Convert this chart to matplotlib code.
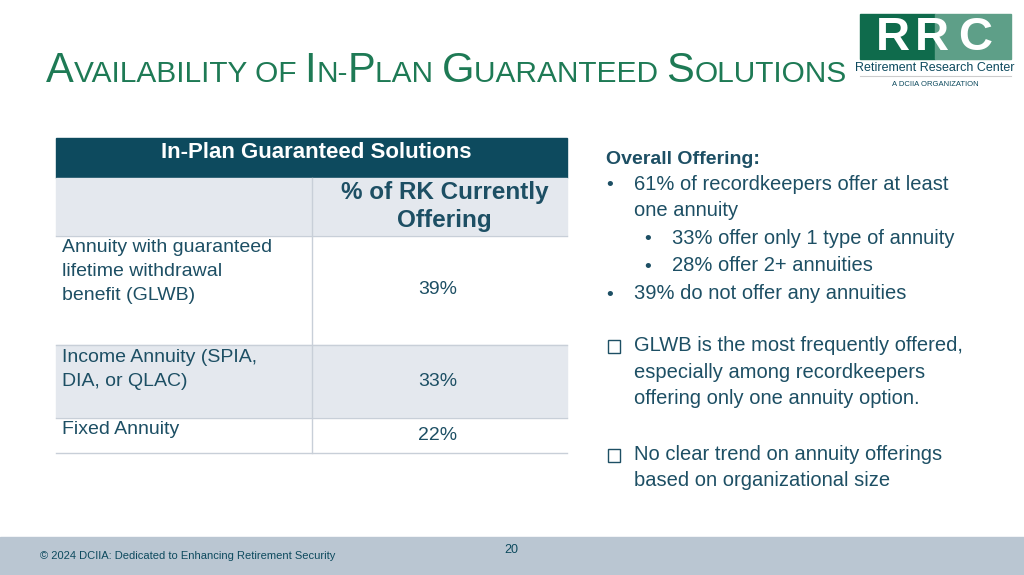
import matplotlib
matplotlib.use("Agg")
import matplotlib.pyplot as plt
from matplotlib.patches import Rectangle
from matplotlib.offsetbox import TextArea, HPacker, AnchoredOffsetbox

plt.rcParams['font.family'] = ['Liberation Sans', 'DejaVu Sans']

# table data
header = "In-Plan Guaranteed Solutions"
col_header = ["% of RK Currently", "Offering"]
solutions = [["Annuity with guaranteed", "lifetime withdrawal", "benefit (GLWB)"],
             ["Income Annuity (SPIA,", "DIA, or QLAC)"],
             ["Fixed Annuity"]]
pct_offering = ["39%", "33%", "22%"]
pct_y = [290, 381, 435]

# side notes
bullets = [(606, "61% of recordkeepers offer at least\none annuity", 186),
           (644, "33% offer only 1 type of annuity", 240),
           (644, "28% offer 2+ annuities", 267),
           (606, "39% do not offer any annuities", 295)]
boxed = [("GLWB is the most frequently offered,\nespecially among recordkeepers\noffering only one annuity option.", 347),
         ("No clear trend on annuity offerings\nbased on organizational size", 456)]

fig = plt.figure(figsize=(10.24, 5.75), dpi=100)
ax = fig.add_axes([0, 0, 1, 1])
ax.set_xlim(0, 1024)
ax.set_ylim(575, 0)
ax.axis('off')

navy = '#0d4a5e'
txt = '#1d4f64'
grey = '#e4e8ee'
green = '#1e7a55'

# title in small caps
parts = [("A", 30), ("VAILABILITY OF ", 21.5), ("I", 30), ("N-", 21.5), ("P", 30), ("LAN ", 21.5),
         ("G", 30), ("UARANTEED ", 21.5), ("S", 30), ("OLUTIONS", 21.5)]
areas = [TextArea(s, textprops=dict(fontsize=fs, color=green)) for s, fs in parts]
box = HPacker(children=areas, align="baseline", pad=0, sep=0)
ab = AnchoredOffsetbox(loc='lower left', child=box, frameon=False,
                       bbox_to_anchor=(46, 575 - 91), bbox_transform=None, borderpad=0, pad=0)
ax.add_artist(ab)

# logo
ax.add_patch(Rectangle((860, 14), 75, 45, color='#0f6b4c'))
ax.add_patch(Rectangle((935, 14), 76, 45, color='#5e9f88'))
for lx, ch in [(893, "R"), (932, "R"), (975, "C")]:
    ax.text(lx, 38, ch, color='white', fontsize=34, fontweight='bold', ha='center', va='center')
ax.text(935, 68, "Retirement Research Center", color=navy, fontsize=9, ha='center', va='center')
ax.plot([860, 1011], [76, 76], color='#cccccc', lw=0.8)
ax.text(935, 85, "A DCIIA ORGANIZATION", color=navy, fontsize=5.5, ha='center', va='center')

# table
x0, xm, x1 = 56, 312, 567
ax.add_patch(Rectangle((x0, 138), x1 - x0, 40, color=navy))
ax.text((x0 + x1) / 2 + 5, 153, header, color='white', fontsize=16, fontweight='bold', ha='center', va='center')
ax.add_patch(Rectangle((x0, 178), x1 - x0, 58, color=grey))
for i, line in enumerate(col_header):
    ax.text((xm + x1) / 2 + 5, 193 + 28 * i, line, color=txt, fontsize=17.5, fontweight='bold',
            ha='center', va='center')
rows = [(236, 345, 'white'), (345, 418, grey), (418, 453, 'white')]
for (ya, yb, c), sol, pct, py in zip(rows, solutions, pct_offering, pct_y):
    ax.add_patch(Rectangle((x0, ya), x1 - x0, yb - ya, color=c))
    ax.plot([x0, x1], [ya, ya], color='#c8cfd8', lw=1)
    for i, line in enumerate(sol):
        ax.text(62, ya + 12 + 24 * i, line, color=txt, fontsize=14, ha='left', va='center')
    ax.text(438, py, pct, color=txt, fontsize=14, ha='center', va='center')
ax.plot([x0, x1], [453, 453], color='#c8cfd8', lw=1)
ax.plot([xm, xm], [178, 453], color='#c8cfd8', lw=1)

# right side notes
ax.text(606, 159, "Overall Offering:", color=txt, fontsize=14, fontweight='bold', va='center')
for bx, s, y in bullets:
    ax.text(bx, y, "•", color=txt, fontsize=14, va='center')
    ax.text(bx + 28, y - 11, s, color=txt, fontsize=14.5, va='top', linespacing=1.5)
for s, y in boxed:
    ax.add_patch(Rectangle((608, y - 7), 12, 13, fill=False, ec=txt, lw=1))
    ax.text(634, y - 11, s, color=txt, fontsize=14.5, va='top', linespacing=1.5)

# footer
ax.add_patch(Rectangle((0, 537), 1024, 38, color='#bac6d2'))
ax.text(40, 556, "© 2024 DCIIA: Dedicated to Enhancing Retirement Security", color=navy, fontsize=8, va='center')
ax.text(511, 550, "20", color=navy, fontsize=9, ha='center', va='center')

fig.savefig("out.png", dpi=100)
